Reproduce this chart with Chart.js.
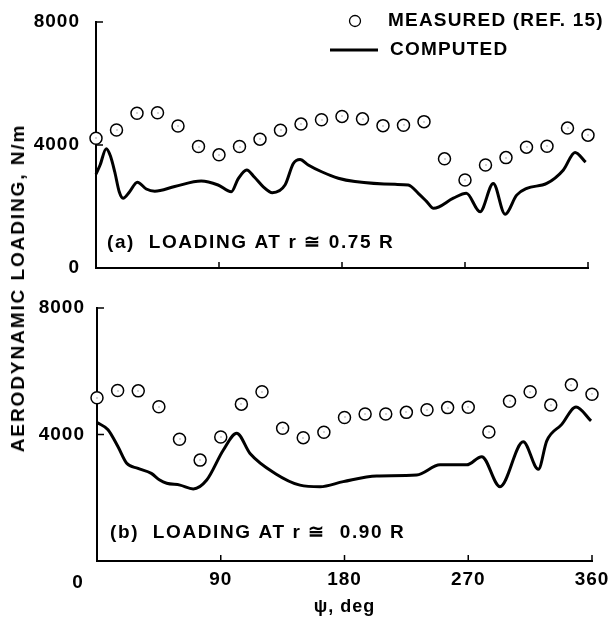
<!DOCTYPE html>
<html>
<head>
<meta charset="utf-8">
<script src="https://cdn.jsdelivr.net/npm/chart.js@4.4.1/dist/chart.umd.min.js"></script>
<style>
  body { margin: 0; background: #fff; }
  #wrap { position: relative; width: 612px; height: 619px; }
  #chartTop { position: absolute; left: 0; top: 0; }
  #chartBottom { position: absolute; left: 0; top: 290px; }
  #yTitle {
    position: absolute; left: 18px; top: 288px;
    transform: translate(-50%, -50%) rotate(-90deg);
    font: bold 19px "Liberation Sans", Arial, sans-serif;
    letter-spacing: 1.9px; white-space: nowrap; color: #000;
  }
</style>
</head>
<body>
<div id="wrap">
  <canvas id="chartTop" width="612" height="290"></canvas>
  <canvas id="chartBottom" width="612" height="329"></canvas>
  <div id="yTitle">AERODYNAMIC LOADING, N/m</div>
</div>
<script>
// pomiary co 15 deg
const psiMeasured = [0, 15, 30, 45, 60, 75, 90, 105, 120, 135, 150, 165, 180,
                     195, 210, 225, 240, 255, 270, 285, 300, 315, 330, 345, 360];
const measuredA = [4220, 4490, 5030, 5050, 4620, 3950, 3680, 3950, 4190, 4480, 4680, 4820, 4930,
                   4850, 4630, 4640, 4760, 3550, 2860, 3350, 3590, 3930, 3960, 4550, 4320];
const measuredB = [5160, 5390, 5380, 4880, 3850, 3190, 3920, 4960, 5350, 4200, 3900, 4070, 4540,
                   4650, 4650, 4700, 4780, 4850, 4860, 4080, 5050, 5350, 4930, 5570, 5270];

// obliczenia, r = 0.75 R
const psiComputedA = [0, 3, 7.5, 10.5, 13.7, 17, 19.8, 24.6, 30.2, 36.8, 43, 57.6, 77, 89.3, 99,
                      104, 110.3, 116, 122.4, 129, 138.3, 144.4, 149.3, 155.3, 165.1, 177.3, 189.5,
                      218.8, 228.5, 235.8, 242, 247, 261.5, 271, 281, 290.7, 299.3, 307.8, 315.2,
                      329.8, 342, 350.5, 358.3];
const computedA = [3050, 3350, 3880, 3650, 3130, 2480, 2270, 2480, 2790, 2570, 2500, 2650, 2830, 2700, 2480,
                   2900, 3190, 2950, 2640, 2450, 2700, 3400, 3530, 3350, 3130, 2920, 2810,
                   2720, 2700, 2430, 2160, 1940, 2270, 2430, 1830, 2750, 1750, 2370, 2590,
                   2750, 3190, 3760, 3440];

// obliczenia, r = 0.90 R
const psiComputedB = [0, 8, 15.3, 21.6, 29.8, 39.5, 45.6, 50.7, 60.4, 70, 79.8, 91.9, 101.6, 111.3, 129.5,
                      147.6, 162.2, 179.1, 203.4, 232.5, 249.5, 268.9, 279.8, 293.1, 310, 321, 327.1,
                      338, 348.4, 359.3];
const computedB = [4380, 4150, 3610, 3090, 2930, 2770, 2560, 2460, 2400, 2280, 2560, 3510, 4040, 3400, 2770,
                   2400, 2350, 2510, 2690, 2720, 3040, 3040, 3300, 2350, 3770, 2900, 3800,
                   4320, 4870, 4430];

const yTicks = [0, 4000, 8000];
const xTicks = [0, 90, 180, 270, 360];

const FONT = '"Liberation Sans", Arial, sans-serif';

function toPoints(xs, ys) {
    return xs.map((x, i) => ({ x: x, y: ys[i] }));
}

// kreski podzialki do srodka, opis panelu, legenda
const panelDecor = {
    id: "panelDecor",
    beforeDraw(chart) {
        chart.ctx.letterSpacing = "1px";
    },
    afterDatasetsDraw(chart) {
        // kropka w srodku kolek
        const ctx = chart.ctx;
        ctx.save();
        ctx.fillStyle = "#555";
        chart.getDatasetMeta(0).data.forEach(p => {
            ctx.fillRect(Math.round(p.x) - 0.5, Math.round(p.y) - 0.5, 1, 1);
        });
        ctx.restore();
    },
    afterDraw(chart, args, opts) {
        const ctx = chart.ctx;
        const sx = chart.scales.x;
        const sy = chart.scales.y;
        const area = chart.chartArea;

        ctx.save();
        ctx.strokeStyle = "#000";
        ctx.lineWidth = 1.5;
        ctx.beginPath();
        yTicks.slice(1).forEach(v => {
            const py = sy.getPixelForValue(v);
            ctx.moveTo(area.left, py);
            ctx.lineTo(area.left + 7, py);
        });
        xTicks.slice(1).forEach(v => {
            const px = sx.getPixelForValue(v);
            ctx.moveTo(px, area.bottom);
            ctx.lineTo(px, area.bottom - 6);
        });
        ctx.stroke();

        ctx.fillStyle = "#000";
        ctx.font = "bold 19px " + FONT;
        ctx.letterSpacing = "1.6px";
        ctx.textBaseline = "middle";
        ctx.textAlign = "left";
        ctx.fillText(opts.label, area.left + opts.labelDx, area.bottom - opts.labelDy);

        if (opts.zeroLabel) {
            ctx.letterSpacing = "1px";
            ctx.textAlign = "center";
            ctx.fillText("0", sx.getPixelForValue(0) - 19, area.bottom + opts.zeroDy);
        }

        if (opts.legend) {
            ctx.letterSpacing = "1.2px";
            ctx.lineWidth = 1.3;
            ctx.beginPath();
            ctx.arc(355, 21, 5.5, 0, Math.PI * 2);
            ctx.stroke();
            ctx.fillText("MEASURED (REF. 15)", 388, 21);
            ctx.lineWidth = 3;
            ctx.beginPath();
            ctx.moveTo(330, 50);
            ctx.lineTo(378, 50);
            ctx.stroke();
            ctx.fillText("COMPUTED", 390, 50);
        }
        ctx.restore();
        ctx.letterSpacing = "0px";
    }
};

function makePanel(canvasId, measured, psiComp, computed, cfg) {
    const ctx = document.getElementById(canvasId).getContext("2d");
    return new Chart(ctx, {
        type: "line",
        data: {
            datasets: [{
                label: "MEASURED (REF. 15)",
                data: toPoints(psiMeasured, measured),
                showLine: false,
                pointStyle: "circle",
                pointRadius: 6,
                pointBorderWidth: 1.5,
                pointBorderColor: "#000",
                pointBackgroundColor: "#fff",
                clip: false,
                order: 0
            }, {
                label: "COMPUTED",
                data: toPoints(psiComp, computed),
                borderColor: "#000",
                borderWidth: 3,
                pointRadius: 0,
                cubicInterpolationMode: "monotone",
                fill: false,
                clip: false,
                order: 1
            }]
        },
        options: {
            responsive: false,
            animation: false,
            layout: { padding: cfg.padding, autoPadding: false },
            plugins: {
                legend: { display: false },
                tooltip: { enabled: false },
                panelDecor: cfg.decor
            },
            scales: {
                x: {
                    type: "linear",
                    min: 0,
                    max: 360,
                    afterFit: s => {
                        s.height = cfg.xHeight;
                        s.paddingLeft = 0;
                        s.paddingRight = 0;
                    },
                    afterBuildTicks: s => { s.ticks = xTicks.map(v => ({ value: v })); },
                    grid: { display: false, drawTicks: false },
                    border: { display: true, color: "#000", width: 2 },
                    ticks: {
                        display: cfg.xLabels,
                        autoSkip: false,
                        maxRotation: 0,
                        padding: 7,
                        color: "#000",
                        font: { family: FONT, size: 19, weight: "bold" },
                        callback: v => (v === 0 ? "" : String(v))
                    },
                    title: {
                        display: cfg.xLabels,
                        text: "\u03C8, deg",
                        color: "#000",
                        font: { family: FONT, size: 18, weight: "bold" },
                        padding: { top: 0, bottom: 1 }
                    }
                },
                y: {
                    min: 0,
                    max: 8000,
                    afterFit: s => {
                        s.width = cfg.yWidth;
                        s.paddingTop = 0;
                        s.paddingBottom = 0;
                    },
                    afterBuildTicks: s => { s.ticks = yTicks.map(v => ({ value: v })); },
                    grid: { display: false, drawTicks: false },
                    border: { display: true, color: "#000", width: 2 },
                    ticks: {
                        padding: cfg.yPad,
                        color: "#000",
                        font: { family: FONT, size: 19, weight: "bold" },
                        callback: v => (v === 0 && cfg.hideYZero ? "" : String(v))
                    }
                }
            }
        },
        plugins: [panelDecor]
    });
}

makePanel("chartTop", measuredA, psiComputedA, computedA, {
    padding: { left: 0, top: 22, right: 24, bottom: 0 },
    xHeight: 22,
    yWidth: 96,
    yPad: 16,
    xLabels: false,
    hideYZero: false,
    decor: { label: "(a)  LOADING AT r \u2245 0.75 R", labelDx: 11, labelDy: 25, legend: true }
});

makePanel("chartBottom", measuredB, psiComputedB, computedB, {
    padding: { left: 0, top: 18, right: 20, bottom: 0 },
    xHeight: 58,
    yWidth: 97,
    yPad: 12,
    xLabels: true,
    hideYZero: true,
    decor: { label: "(b)  LOADING AT r \u2245  0.90 R", labelDx: 13, labelDy: 28, zeroLabel: true, zeroDy: 22 }
});
</script>
</body>
</html>
